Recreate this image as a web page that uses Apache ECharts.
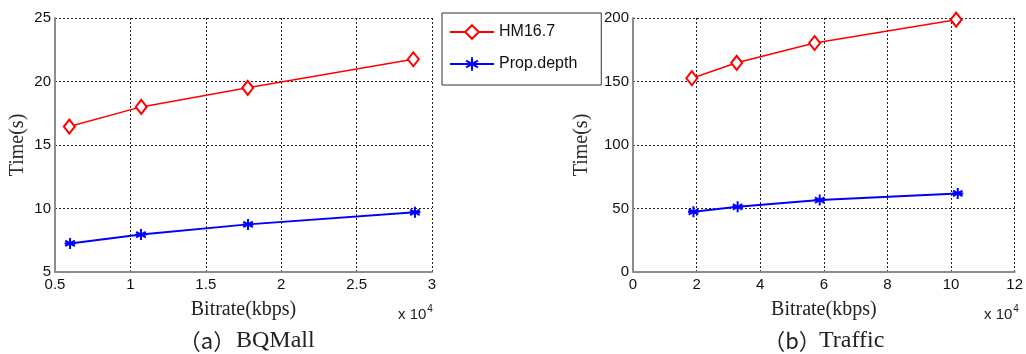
<!DOCTYPE html>
<html>
<head>
<meta charset="utf-8">
<script src="https://cdn.jsdelivr.net/npm/echarts@6/dist/echarts.min.js"></script>
<style>
html,body{margin:0;padding:0;background:#fff;}
#c{width:1026px;height:354px;}
</style>
</head>
<body>
<div id="c"></div>
<script>
// ---- data (bitrate in units of 10^4 kbps, time in s) ----
const seriesNames = ['HM16.7', 'Prop.depth'];
const bqHMx   = [0.595, 1.072, 1.778, 2.876];
const bqHMy   = [16.45, 18.0, 19.5, 21.75];
const bqPropX = [0.60, 1.07, 1.78, 2.887];
const bqPropY = [7.25, 7.95, 8.75, 9.7];
const trHMx   = [1.85, 3.26, 5.71, 10.16];
const trHMy   = [152.6, 164.7, 180.3, 198.7];
const trPropX = [1.90, 3.29, 5.87, 10.21];
const trPropY = [47.4, 51.3, 56.6, 61.9];
// tick labels
const bqXTicks = [0.5, 1, 1.5, 2, 2.5, 3];
const bqYTicks = [5, 10, 15, 20, 25];
const trXTicks = [0, 2, 4, 6, 8, 10, 12];
const trYTicks = [0, 50, 100, 150, 200];
const captions = ['BQMall', 'Traffic'];

const zip = (a, b) => a.map((v, i) => [v, b[i]]);

const RED = '#ff0000', BLUE = '#0000ff';
const starPath = 'path://M5,0 L5,10 M0.67,2.5 L9.33,7.5 M0.67,7.5 L9.33,2.5 M0,5 L10,5';

function xAxis(idx, ticks) {
  return {
    type: 'value', gridIndex: idx,
    min: ticks[0], max: ticks[ticks.length - 1], interval: ticks[1] - ticks[0],
    name: 'Bitrate(kbps)', nameLocation: 'middle', nameGap: 28,
    nameTextStyle: { fontFamily: 'Liberation Serif', fontSize: 20, color: '#222' },
    axisLine: { show: true, onZero: false, lineStyle: { color: '#8c8c8c', width: 2 } },
    axisTick: { show: false },
    axisLabel: { margin: 5, fontFamily: 'Liberation Sans', fontSize: 15, color: '#111' },
    splitLine: { show: true, lineStyle: { color: '#222', type: [2, 2], width: 1 } }
  };
}
function yAxis(idx, ticks, gap) {
  return {
    type: 'value', gridIndex: idx,
    min: ticks[0], max: ticks[ticks.length - 1], interval: ticks[1] - ticks[0],
    name: 'Time(s)', nameLocation: 'middle', nameGap: gap, nameRotate: 90,
    nameTextStyle: { fontFamily: 'Liberation Serif', fontSize: 20, color: '#2a2a2a' },
    axisLine: { show: true, onZero: false, lineStyle: { color: '#8c8c8c', width: 2 } },
    axisTick: { show: false },
    axisLabel: { margin: 4, fontFamily: 'Liberation Sans', fontSize: 15, color: '#111' },
    splitLine: { show: true, lineStyle: { color: '#222', type: [2, 2], width: 1 } }
  };
}
function hmSeries(idx, data) {
  return {
    name: seriesNames[0], type: 'line', xAxisIndex: idx, yAxisIndex: idx, data,
    symbol: 'emptyDiamond', symbolSize: [11, 14],
    lineStyle: { color: RED, width: 1.5 },
    itemStyle: { color: RED, borderColor: RED, borderWidth: 1.5 },
    animation: false, z: 3
  };
}
function propSeries(idx, data) {
  return {
    name: seriesNames[1], type: 'line', xAxisIndex: idx, yAxisIndex: idx, data,
    symbol: starPath, symbolSize: 11, symbolKeepAspect: true,
    lineStyle: { color: BLUE, width: 2 },
    itemStyle: { color: BLUE, borderColor: BLUE, borderWidth: 2 },
    animation: false, z: 3
  };
}

const supRich = {
  a: { fontFamily: 'Liberation Sans', fontSize: 15, fill: '#222' },
  s: { fontFamily: 'Liberation Sans', fontSize: 10, fill: '#222', verticalAlign: 'top', padding: [0, 0, 12, 1] }
};

const chart = echarts.init(document.getElementById('c'), null, { renderer: 'canvas' });
chart.setOption({
  backgroundColor: '#fff',
  animation: false,
  grid: [
    { left: 55, top: 18, width: 377, height: 254 },
    { left: 633, top: 18, width: 386, height: 254 }
  ],
  xAxis: [xAxis(0, bqXTicks), xAxis(1, trXTicks)],
  yAxis: [yAxis(0, bqYTicks, 27), yAxis(1, trYTicks, 41)],
  legend: {
    orient: 'vertical', left: 442, top: 13,
    data: seriesNames,
    itemWidth: 44, itemHeight: 17, itemGap: 16,
    padding: [11, 24, 13, 7],
    borderColor: '#333', borderWidth: 1,
    backgroundColor: '#fff',
    textStyle: { fontFamily: 'Liberation Sans', fontSize: 16, color: '#111' }
  },
  graphic: [
    { type: 'text', left: 398, top: 304, style: { rich: supRich, text: '{a|x 10}{s|4}' } },
    { type: 'text', left: 984, top: 304, style: { rich: supRich, text: '{a|x 10}{s|4}' } },
    { type: 'text', x: 207, y: 341, style: { text: '（a）', fontFamily: 'Noto Sans CJK SC', fontSize: 22, fill: '#222', align: 'center', verticalAlign: 'middle' } },
    { type: 'text', x: 236, y: 341, style: { text: captions[0], fontFamily: 'Liberation Serif', fontSize: 24, fill: '#222', align: 'left', verticalAlign: 'middle' } },
    { type: 'text', x: 792, y: 341, style: { text: '（b）', fontFamily: 'Noto Sans CJK SC', fontSize: 22, fill: '#222', align: 'center', verticalAlign: 'middle' } },
    { type: 'text', x: 819, y: 341, style: { text: captions[1], fontFamily: 'Liberation Serif', fontSize: 24, fill: '#222', align: 'left', verticalAlign: 'middle' } }
  ],
  series: [
    hmSeries(0, zip(bqHMx, bqHMy)),
    propSeries(0, zip(bqPropX, bqPropY)),
    hmSeries(1, zip(trHMx, trHMy)),
    propSeries(1, zip(trPropX, trPropY))
  ]
});
</script>
</body>
</html>
